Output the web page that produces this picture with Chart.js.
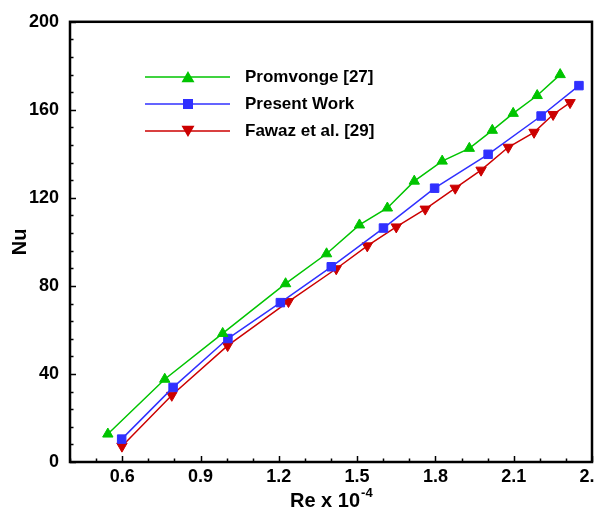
<!DOCTYPE html>
<html>
<head>
<meta charset="utf-8">
<script src="https://cdn.jsdelivr.net/npm/chart.js@4/dist/chart.umd.min.js"></script>
<style>
    html, body { margin: 0; padding: 0; background: #ffffff; overflow: hidden; }
    /* the figure is cut just past the right frame, like the source image */
    #wrap { width: 594px; height: 514px; overflow: hidden; }
</style>
</head>
<body>
<div id="wrap"><canvas id="nuChart" width="610" height="514"></canvas></div>
<script>
// Data (Re x 10^-4 vs Nu)
const promvongeX = [0.545, 0.763, 0.985, 1.226, 1.383, 1.509, 1.616, 1.719, 1.826, 1.930, 2.018, 2.098, 2.190, 2.278];
const promvongeY = [12.7, 37.6, 58.4, 81.0, 94.6, 107.7, 115.4, 127.6, 136.7, 142.5, 150.7, 158.4, 166.5, 176.0];

const presentX = [0.598, 0.795, 1.005, 1.206, 1.401, 1.601, 1.797, 2.002, 2.205, 2.350];
const presentY = [10.4, 33.9, 56.1, 72.4, 88.7, 106.3, 124.4, 139.8, 157.2, 171.0];

const fawazX = [0.599, 0.790, 1.004, 1.237, 1.420, 1.539, 1.650, 1.761, 1.876, 1.975, 2.079, 2.178, 2.251, 2.316];
const fawazY = [7.2, 30.3, 52.9, 72.9, 87.8, 98.2, 106.8, 114.9, 124.4, 132.6, 143.0, 149.8, 157.9, 163.3];

const seriesLabels = ['Promvonge [27]', 'Present Work', 'Fawaz et al. [29]'];

// tick values
const xMajorTicks = [0.6, 0.9, 1.2, 1.5, 1.8, 2.1, 2.4];
const xMinorTicks = [0.4, 0.5, 0.7, 0.8, 1.0, 1.1, 1.3, 1.4, 1.6, 1.7, 1.9, 2.0, 2.2, 2.3];
const yMajorTicks = [0, 40, 80, 120, 160, 200];
const yMinorTicks = [8, 16, 24, 32, 48, 56, 64, 72, 88, 96, 104, 112, 128, 136, 144, 152, 168, 176, 184, 192];

const FONT = "'Liberation Sans', Arial, sans-serif";

function toPoints(xs, ys) {
    let pts = [];
    for (let i = 0; i < xs.length; i++) {
        pts.push({ x: xs[i], y: ys[i] });
    }
    return pts;
}

// frame, inward ticks, legend and x title
const framePlugin = {
    id: 'framePlugin',
    afterDatasetsDraw(chart) {
        const ctx = chart.ctx;
        const area = chart.chartArea;
        const xs = chart.scales.x;
        const ys = chart.scales.y;
        ctx.save();
        ctx.strokeStyle = '#000000';

        // ticks pointing inside
        ctx.lineWidth = 1.5;
        ctx.beginPath();
        xMajorTicks.forEach(v => {
            const px = Math.round(xs.getPixelForValue(v)) + 0.5;
            ctx.moveTo(px, area.bottom);
            ctx.lineTo(px, area.bottom - 6);
        });
        xMinorTicks.forEach(v => {
            const px = Math.round(xs.getPixelForValue(v)) + 0.5;
            ctx.moveTo(px, area.bottom);
            ctx.lineTo(px, area.bottom - 3.5);
        });
        yMajorTicks.forEach(v => {
            const py = Math.round(ys.getPixelForValue(v)) + 0.5;
            ctx.moveTo(area.left, py);
            ctx.lineTo(area.left + 6, py);
        });
        yMinorTicks.forEach(v => {
            const py = Math.round(ys.getPixelForValue(v)) + 0.5;
            ctx.moveTo(area.left, py);
            ctx.lineTo(area.left + 3.5, py);
        });
        ctx.stroke();

        // frame
        ctx.lineWidth = 2.5;
        ctx.strokeRect(area.left, area.top, area.right - area.left, area.bottom - area.top);

        // legend (line + marker + label)
        const rowY = [77, 104, 131];
        chart.data.datasets.forEach((ds, i) => {
            const y = rowY[i];
            ctx.strokeStyle = ds.borderColor;
            ctx.lineWidth = 1.5;
            ctx.beginPath();
            ctx.moveTo(145, y);
            ctx.lineTo(230, y);
            ctx.stroke();
            ctx.fillStyle = ds.pointBackgroundColor;
            ctx.strokeStyle = ds.pointBorderColor;
            Chart.helpers.drawPoint(ctx, {
                pointStyle: ds.pointStyle,
                rotation: ds.pointRotation || 0,
                radius: ds.pointRadius,
                borderWidth: 1
            }, 188, y + (ds.pointStyle === 'triangle' ? (ds.pointRotation ? -1.5 : 1.5) : 0));
            ctx.fillStyle = '#000000';
            ctx.font = 'bold 17px ' + FONT;
            ctx.textAlign = 'left';
            ctx.textBaseline = 'middle';
            ctx.fillText(ds.label, 245, y);
        });

        // x axis title with superscript
        ctx.fillStyle = '#000000';
        ctx.textBaseline = 'alphabetic';
        ctx.textAlign = 'left';
        ctx.font = 'bold 20px ' + FONT;
        const mainTxt = 'Re x 10';
        const w = ctx.measureText(mainTxt).width;
        ctx.fillText(mainTxt, 290, 507);
        ctx.font = 'bold 13px ' + FONT;
        ctx.fillText('-4', 290 + w + 1, 497);
        ctx.restore();
    }
};

const ctx = document.getElementById('nuChart').getContext('2d');
const chart = new Chart(ctx, {
    type: 'line',
    data: {
        datasets: [
            {
                label: seriesLabels[0],
                data: toPoints(promvongeX, promvongeY),
                borderColor: '#00c400',
                backgroundColor: '#00c400',
                pointBackgroundColor: '#00c400',
                pointBorderColor: '#00c400',
                pointStyle: 'triangle',
                pointRadius: 6,
                borderWidth: 1.5,
                pointBorderWidth: 1
            },
            {
                label: seriesLabels[1],
                data: toPoints(presentX, presentY),
                borderColor: '#3030ff',
                backgroundColor: '#3030ff',
                pointBackgroundColor: '#3030ff',
                pointBorderColor: '#3030ff',
                pointStyle: 'rect',
                pointRadius: 6,
                borderWidth: 1.5,
                pointBorderWidth: 1
            },
            {
                label: seriesLabels[2],
                data: toPoints(fawazX, fawazY),
                borderColor: '#cc0000',
                backgroundColor: '#cc0000',
                pointBackgroundColor: '#cc0000',
                pointBorderColor: '#cc0000',
                pointStyle: 'triangle',
                pointRotation: 180,
                pointRadius: 6,
                borderWidth: 1.5,
                pointBorderWidth: 1
            }
        ]
    },
    options: {
        responsive: false,
        animation: false,
        clip: false,
        layout: { padding: { left: 0, right: 18, top: 20, bottom: 0 } },
        plugins: {
            legend: { display: false },
            tooltip: { enabled: false }
        },
        scales: {
            x: {
                type: 'linear',
                min: 0.4,
                max: 2.4,
                afterBuildTicks: (scale) => {
                    scale.ticks = xMajorTicks.map(v => ({ value: v }));
                },
                afterFit: (scale) => { scale.height = 52; },
                grid: { display: false, drawTicks: false },
                border: { display: false },
                ticks: {
                    color: '#000000',
                    font: { family: FONT, size: 18, weight: 'bold' },
                    padding: 4,
                    maxRotation: 0,
                    autoSkip: false,
                    callback: (v) => v.toFixed(1)
                }
            },
            y: {
                type: 'linear',
                min: 0,
                max: 200,
                afterBuildTicks: (scale) => {
                    scale.ticks = yMajorTicks.map(v => ({ value: v }));
                },
                afterFit: (scale) => { scale.width = 70; },
                grid: { display: false, drawTicks: false },
                border: { display: false },
                title: {
                    display: true,
                    text: 'Nu',
                    color: '#000000',
                    font: { family: FONT, size: 20, weight: 'bold' },
                    padding: { top: 8, bottom: 0 }
                },
                ticks: {
                    color: '#000000',
                    font: { family: FONT, size: 18, weight: 'bold' },
                    padding: 11
                }
            }
        }
    },
    plugins: [framePlugin]
});
</script>
</body>
</html>
